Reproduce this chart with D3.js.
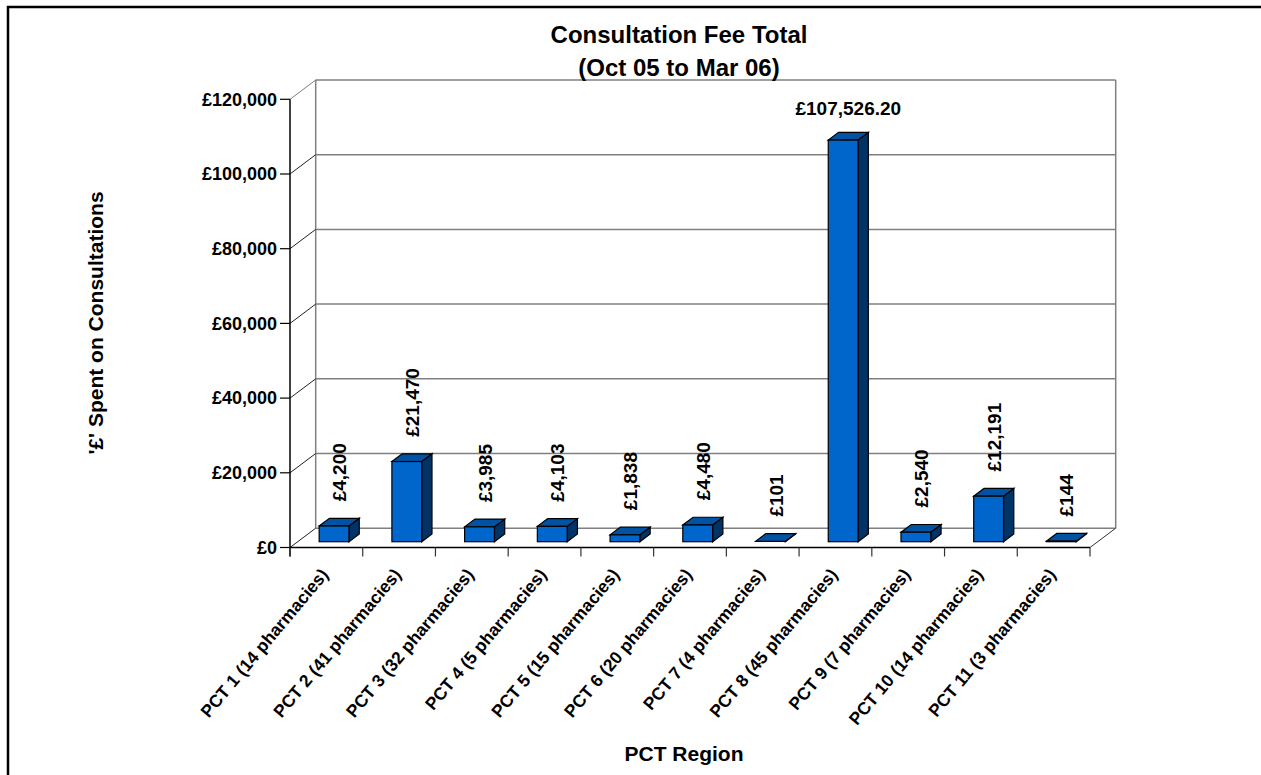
<!DOCTYPE html>
<html>
<head>
<meta charset="utf-8">
<title>Consultation Fee Total</title>
<script src="https://d3js.org/d3.v7.min.js"></script>
<style>
  body { margin: 0; background: #fff; }
  svg { display: block; font-family: "Liberation Sans", Arial, sans-serif; }
  .tick-label { font-size: 18px; font-weight: bold; }
  .cat-label { font-size: 17.5px; font-weight: bold; }
  .value-label { font-size: 19px; font-weight: bold; }
  .axis-title { font-size: 21px; font-weight: bold; }
  .chart-title { font-size: 24px; font-weight: bold; }
</style>
</head>
<body>
<svg id="chart" width="1261" height="775"></svg>
<script>
// data
const categories = [
  'PCT 1 (14 pharmacies)', 'PCT 2 (41 pharmacies)', 'PCT 3 (32 pharmacies)',
  'PCT 4 (5 pharmacies)', 'PCT 5 (15 pharmacies)', 'PCT 6 (20 pharmacies)',
  'PCT 7 (4 pharmacies)', 'PCT 8 (45 pharmacies)', 'PCT 9 (7 pharmacies)',
  'PCT 10 (14 pharmacies)', 'PCT 11 (3 pharmacies)'
];
const fees = [4200, 21470, 3985, 4103, 1838, 4480, 101, 107526.20, 2540, 12191, 144];
const yTicks = [0, 20000, 40000, 60000, 80000, 100000, 120000];
const titleLines = ['Consultation Fee Total', '(Oct 05 to Mar 06)'];

const svg = d3.select('#chart');

// plot frame (front plane) and the 3d depth offset
const plotLeft = 290, plotRight = 1090, plotBottom = 547.5, plotTop = 99.3;
const depth = { dx: 25.7, dy: -19.3 };
const barFront = 0.3, barBack = 0.7;   // where the bars sit within the depth
const barWidthRatio = 0.41;

const x = d3.scaleBand().domain(categories).range([plotLeft, plotRight]).padding(0);
const y = d3.scaleLinear().domain([0, 120000]).range([plotBottom, plotTop]);

const money = d => '£' + (d % 1 ? d3.format(',.2f')(d) : d3.format(',')(d));

// outer border (cut off at the right and bottom of the picture)
svg.append('rect')
  .attr('x', 8).attr('y', 7).attr('width', 1400).attr('height', 1000)
  .attr('fill', 'none').attr('stroke', '#000').attr('stroke-width', 2.5);

// back wall
const bx0 = plotLeft + depth.dx, bx1 = plotRight + depth.dx;
const back = svg.append('g');
back.selectAll('line.grid')
  .data(yTicks)
  .enter().append('line')
  .attr('x1', bx0).attr('x2', bx1)
  .attr('y1', d => y(d) + depth.dy).attr('y2', d => y(d) + depth.dy)
  .attr('stroke', '#808080').attr('stroke-width', 1.5);
back.append('line')
  .attr('x1', bx0).attr('x2', bx0)
  .attr('y1', y(120000) + depth.dy).attr('y2', y(0) + depth.dy)
  .attr('stroke', '#808080').attr('stroke-width', 1.5);
back.append('line')
  .attr('x1', bx1).attr('x2', bx1)
  .attr('y1', y(120000) + depth.dy).attr('y2', y(0) + depth.dy)
  .attr('stroke', '#808080').attr('stroke-width', 1.5);

// side wall diagonals at each tick
svg.append('g').selectAll('line')
  .data(yTicks)
  .enter().append('line')
  .attr('x1', plotLeft).attr('y1', d => y(d))
  .attr('x2', bx0).attr('y2', d => y(d) + depth.dy)
  .attr('stroke', d => d === 120000 ? '#808080' : '#222').attr('stroke-width', 1);

// floor right edge
svg.append('line')
  .attr('x1', plotRight).attr('y1', y(0))
  .attr('x2', bx1).attr('y2', y(0) + depth.dy)
  .attr('stroke', '#333').attr('stroke-width', 1);

// 3d bars
const bw = x.bandwidth() * barWidthRatio;
const ox = depth.dx * barFront, oy = depth.dy * barFront;
const ddx = depth.dx * (barBack - barFront), ddy = depth.dy * (barBack - barFront);

const bars = svg.append('g').selectAll('g.bar')
  .data(categories.map((c, i) => ({ c, v: fees[i] })))
  .enter().append('g');

bars.each(function(d) {
  const g = d3.select(this);
  const x0 = x(d.c) + (x.bandwidth() - bw) / 2 + ox;
  const x1 = x0 + bw;
  const yb = y(0) + oy;
  const yt = y(d.v) + oy;
  const pts = a => a.map(p => p.join(',')).join(' ');
  // side face
  g.append('polygon')
    .attr('points', pts([[x1, yb], [x1, yt], [x1 + ddx, yt + ddy], [x1 + ddx, yb + ddy]]))
    .attr('fill', '#003366').attr('stroke', '#000').attr('stroke-width', 1.2);
  // top face
  g.append('polygon')
    .attr('points', pts([[x0, yt], [x1, yt], [x1 + ddx, yt + ddy], [x0 + ddx, yt + ddy]]))
    .attr('fill', '#0052A3').attr('stroke', '#000').attr('stroke-width', 1.2);
  // front face
  if (yb - yt > 0.5) {
    g.append('rect')
      .attr('x', x0).attr('y', yt).attr('width', bw).attr('height', yb - yt)
      .attr('fill', '#0066CC').attr('stroke', '#000').attr('stroke-width', 1.2);
  }
  // value label: vertical unless it would run off the top of the plot
  const lx = x0 + bw / 2 + ddx / 2;
  const ly = yt + ddy - 17;
  if (d.v > 100000) {
    g.append('text').attr('class', 'value-label')
      .attr('x', lx).attr('y', ly).attr('text-anchor', 'middle')
      .text(money(d.v));
  } else {
    g.append('text').attr('class', 'value-label')
      .attr('transform', `translate(${lx + 7},${ly}) rotate(-90)`)
      .attr('text-anchor', 'start')
      .text(money(d.v));
  }
});

// front axes
svg.append('line')
  .attr('x1', plotLeft).attr('x2', plotRight).attr('y1', y(0)).attr('y2', y(0))
  .attr('stroke', '#000').attr('stroke-width', 1.5);
svg.append('line')
  .attr('x1', plotLeft).attr('x2', plotLeft).attr('y1', y(120000)).attr('y2', y(0) + 9)
  .attr('stroke', '#000').attr('stroke-width', 1.5);

// y ticks
const yAxis = svg.append('g');
yAxis.selectAll('line')
  .data(yTicks)
  .enter().append('line')
  .attr('x1', plotLeft - 10).attr('x2', plotLeft)
  .attr('y1', d => y(d)).attr('y2', d => y(d))
  .attr('stroke', '#000').attr('stroke-width', 1.2);
yAxis.selectAll('text')
  .data(yTicks)
  .enter().append('text')
  .attr('class', 'tick-label')
  .attr('x', plotLeft - 13).attr('y', d => y(d)).attr('dy', '0.35em')
  .attr('text-anchor', 'end')
  .text(d => '£' + d3.format(',')(d));

// x ticks at category boundaries
const bounds = categories.map(c => x(c)).concat([plotRight]);
svg.append('g').selectAll('line')
  .data(bounds)
  .enter().append('line')
  .attr('x1', d => d).attr('x2', d => d)
  .attr('y1', y(0)).attr('y2', y(0) + 9)
  .attr('stroke', '#333').attr('stroke-width', 1.2);

svg.append('g').selectAll('text')
  .data(categories)
  .enter().append('text')
  .attr('class', 'cat-label')
  .attr('text-anchor', 'end')
  .attr('transform', d => `translate(${x(d) + x.bandwidth() / 2 + 3},${575}) rotate(-50)`)
  .text(d => d);

// titles
svg.append('g').selectAll('text')
  .data(titleLines)
  .enter().append('text')
  .attr('class', 'chart-title')
  .attr('x', 679).attr('y', (d, i) => 43 + i * 33)
  .attr('text-anchor', 'middle')
  .text(d => d);

svg.append('text')
  .attr('class', 'axis-title')
  .attr('x', 684).attr('y', 761)
  .attr('text-anchor', 'middle')
  .text('PCT Region');

svg.append('text')
  .attr('class', 'axis-title')
  .attr('transform', 'translate(103,323) rotate(-90)')
  .attr('text-anchor', 'middle')
  .text("'£' Spent on Consultations");
</script>
</body>
</html>
